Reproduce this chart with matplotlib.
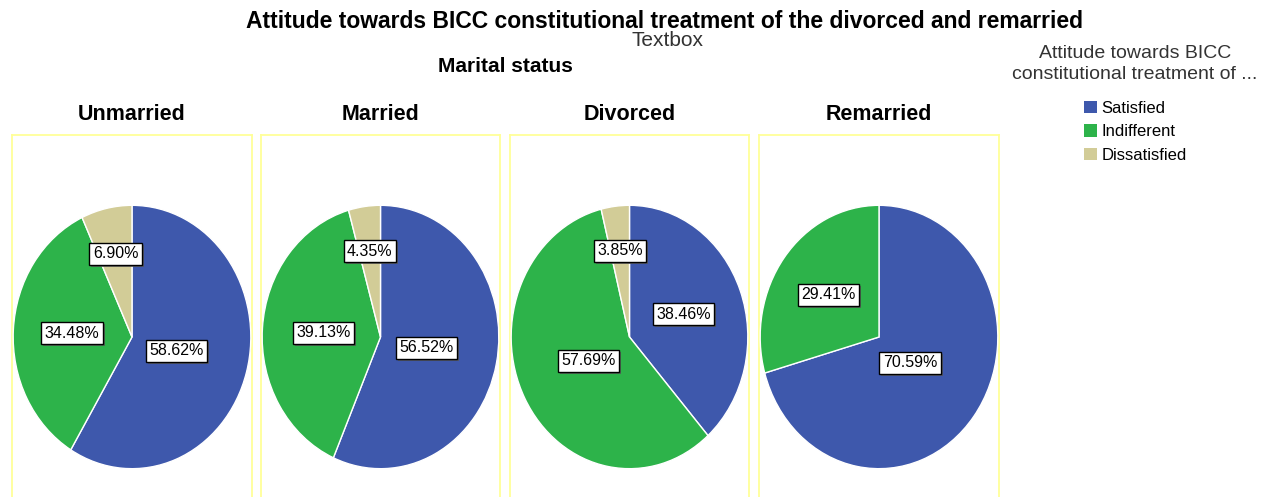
import numpy as np
import matplotlib.pyplot as plt
import matplotlib.patheffects as pe
from matplotlib.patches import Patch

plt.rcParams['font.family'] = ['Liberation Sans', 'DejaVu Sans']

# Data
groups = ['Unmarried', 'Married', 'Divorced', 'Remarried']
categories = ['Satisfied', 'Indifferent', 'Dissatisfied']
percents = [
    [58.62, 34.48, 6.90],
    [56.52, 39.13, 4.35],
    [38.46, 57.69, 3.85],
    [70.59, 29.41, 0.0],
]
colors = ['#3e58ac', '#2db34a', '#d2cc97']

W, H = 1265, 497
fig = plt.figure(figsize=(W / 100, H / 100), dpi=100)

# panel layout in pixels (left, right)
panel_x = [(12, 252), (261, 500), (510, 749), (759, 999)]


def fx(px):
    return px / W


def fy(py):
    return 1 - py / H


for (x0, x1), name, vals in zip(panel_x, groups, percents):
    # yellow frame
    frame = fig.add_axes([fx(x0), fy(512), fx(x1 - x0), fy(135) - fy(512)])
    frame.set_xticks([])
    frame.set_yticks([])
    for s in frame.spines.values():
        s.set_color('#ffff99')
        s.set_linewidth(1.3)
    fig.text(fx((x0 + x1) / 2), fy(115), name, ha='center', va='center',
             fontsize=15.5, fontweight='bold')

    # pie
    ax = fig.add_axes([fx(x0), fy(470), fx(x1 - x0), fy(204) - fy(470)])
    vv = [v for v in vals if v > 0]
    cc = [c for v, c in zip(vals, colors) if v > 0]
    wedges, texts, autotexts = ax.pie(
        vv, colors=cc, startangle=90, counterclock=False,
        autopct='%.2f%%', pctdistance=0.5,
        wedgeprops=dict(edgecolor='white', linewidth=1),
        textprops=dict(fontsize=11.5))
    ax.set_aspect('auto')
    ax.set_xlim(-1.01, 1.01)
    ax.set_ylim(-1.01, 1.01)
    for w, t, v in zip(wedges, autotexts, vv):
        # bigger slices get labels closer to the centre
        ang = np.deg2rad((w.theta1 + w.theta2) / 2)
        d = 0.68 - 0.005 * v
        t.set_position((d * np.cos(ang), d * np.sin(ang)))
        t.set_bbox(dict(boxstyle='square,pad=0.22', facecolor='white',
                        edgecolor='black', linewidth=1))
        t.get_bbox_patch().set_path_effects(
            [pe.SimplePatchShadow(offset=(1.5, -1.5), shadow_rgbFace='#555555', alpha=0.8),
             pe.Normal()])

fig.text(fx(665), fy(22), 'Attitude towards BICC constitutional treatment of the divorced and remarried',
         ha='center', va='center', fontsize=16.5, fontweight='bold')
fig.text(fx(668), fy(41), 'Textbox', ha='center', va='center', fontsize=15, color='#333333')
fig.text(fx(505), fy(67), 'Marital status', ha='center', va='center',
         fontsize=15, fontweight='bold')

# legend
fig.text(fx(1135), fy(64), 'Attitude towards BICC\nconstitutional treatment of ...',
         ha='center', va='center', fontsize=14, color='#333333', linespacing=1.3)
handles = [Patch(facecolor=c, edgecolor='none') for c in colors]
fig.legend(handles, categories, loc='upper left', bbox_to_anchor=(fx(1084), fy(101)),
           frameon=False, fontsize=12, handlelength=0.75, handleheight=0.75,
           handletextpad=0.3, labelspacing=0.5, borderaxespad=0, borderpad=0)

fig.savefig('out.png', dpi=100)
